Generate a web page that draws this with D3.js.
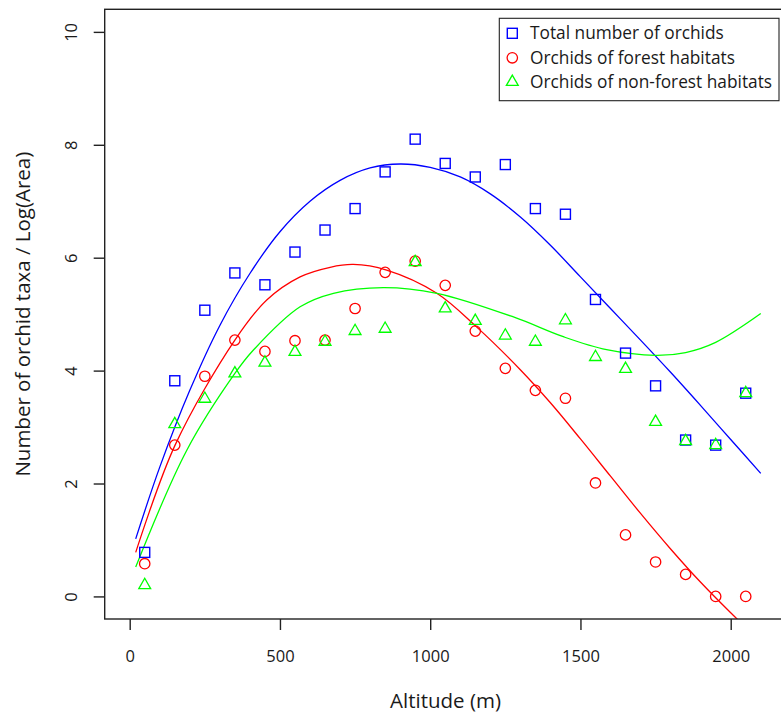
<!DOCTYPE html>
<html>
<head>
<meta charset="utf-8">
<script src="https://cdn.jsdelivr.net/npm/d3@7/dist/d3.min.js"></script>
<style>
  html, body { margin: 0; padding: 0; background: #ffffff; }
  svg { display: block; }
  text { font-family: "Open Sans", "Noto Sans", sans-serif; fill: #1a1a1a; }
</style>
</head>
<body>
<div id="chart"></div>
<script>
// Altitude bands (m), band midpoints
const altitudes = [50, 150, 250, 350, 450, 550, 650, 750, 850, 950, 1050,
                   1150, 1250, 1350, 1450, 1550, 1650, 1750, 1850, 1950, 2050];

// Number of orchid taxa / Log(Area) per altitude band
const totalOrchids = [0.78, 3.82, 5.07, 5.73, 5.52, 6.10, 6.49, 6.87, 7.52, 8.10, 7.67,
                      7.43, 7.65, 6.87, 6.77, 5.26, 4.31, 3.73, 2.77, 2.68, 3.60];
const forestOrchids = [0.58, 2.68, 3.90, 4.54, 4.34, 4.53, 4.54, 5.10, 5.74, 5.94, 5.51,
                       4.70, 4.04, 3.65, 3.51, 2.01, 1.09, 0.61, 0.39, 0.00, 0.00];
const nonForestOrchids = [0.20, 3.05, 3.50, 3.95, 4.14, 4.33, 4.51, 4.70, 4.74, 5.92, 5.10,
                          4.88, 4.62, 4.51, 4.89, 4.24, 4.03, 3.09, 2.75, 2.68, 3.60];

// Fitted trend curves (altitude, value)
const totalFitAlt = [20, 100, 200, 300, 400, 500, 600, 700, 800, 900, 1000,
                     1100, 1200, 1300, 1400, 1500, 1600, 1700, 1800, 1900, 2000, 2100];
const totalFit    = [1.02, 2.29, 3.65, 4.80, 5.72, 6.46, 7.00, 7.37, 7.59, 7.66, 7.60,
                     7.43, 7.13, 6.72, 6.22, 5.66, 5.10, 4.54, 3.97, 3.38, 2.78, 2.18];
const forestFitAlt = [20, 151, 350, 456, 567, 667, 744, 855, 1022, 1155, 1299, 1400, 1500, 1600, 1700, 1800, 1900, 2000, 2100];
const forestFit    = [0.78, 2.68, 4.54, 5.25, 5.66, 5.83, 5.88, 5.78, 5.37, 4.77, 4.02, 3.43, 2.79, 2.13, 1.47, 0.84, 0.25, -0.29, -0.80];
const nonForestFitAlt = [20, 190, 350, 411, 567, 678, 844, 1022, 1277, 1443, 1587, 1750, 1850, 1950, 2100];
const nonForestFit    = [0.52, 2.59, 3.95, 4.36, 5.13, 5.37, 5.47, 5.37, 4.95, 4.60, 4.37, 4.27, 4.32, 4.50, 5.01];

const xTicks = [0, 500, 1000, 1500, 2000];
const yTicks = [0, 2, 4, 6, 8, 10];

const seriesNames = ["Total number of orchids", "Orchids of forest habitats", "Orchids of non-forest habitats"];
const seriesColors = ["#0000ff", "#ff0000", "#00ff00"];
const seriesShapes = ["square", "circle", "triangle"];

const W = 781, H = 713;
const box = { left: 104.7, right: 786.3, top: 9.3, bottom: 619 };

const svg = d3.select("#chart").append("svg")
  .attr("width", W).attr("height", H)
  .attr("viewBox", `0 0 ${W} ${H}`);

svg.append("rect").attr("width", W).attr("height", H).attr("fill", "#ffffff");

const x = d3.scaleLinear().domain([-83.2, 2185]).range([box.left, box.right]);
const y = d3.scaleLinear().domain([-0.4, 10.4]).range([box.bottom, box.top]);

svg.append("defs").append("clipPath").attr("id", "plotClip")
  .append("rect")
  .attr("x", box.left).attr("y", box.top)
  .attr("width", box.right - box.left).attr("height", box.bottom - box.top);

// Marker drawing
function drawMarker(g, shape, cx, cy, color) {
  if (shape === "square") {
    const s = 10;
    g.append("rect").attr("x", cx - s / 2).attr("y", cy - s / 2)
      .attr("width", s).attr("height", s)
      .attr("fill", "none").attr("stroke", color).attr("stroke-width", 1.4);
  } else if (shape === "circle") {
    g.append("circle").attr("cx", cx).attr("cy", cy).attr("r", 5.2)
      .attr("fill", "none").attr("stroke", color).attr("stroke-width", 1.3);
  } else {
    const xc = 4.4;
    const r = 1.555 * xc, hx = 1.347 * xc, yc = 0.778 * xc;
    const pts = [[cx, cy - r], [cx + hx, cy + yc], [cx - hx, cy + yc]];
    g.append("polygon").attr("points", pts.map(p => p.join(",")).join(" "))
      .attr("fill", "none").attr("stroke", color).attr("stroke-width", 1.3)
      .attr("stroke-linejoin", "miter");
  }
}

// Trend curves
const line = d3.line()
  .x(d => x(d[0])).y(d => y(d[1]))
  .curve(d3.curveCatmullRom.alpha(0.5));

const curveData = [
  d3.zip(totalFitAlt, totalFit),
  d3.zip(forestFitAlt, forestFit),
  d3.zip(nonForestFitAlt, nonForestFit)
];

const curves = svg.append("g").attr("clip-path", "url(#plotClip)");
curveData.forEach((pts, i) => {
  curves.append("path").attr("d", line(pts))
    .attr("fill", "none").attr("stroke", seriesColors[i]).attr("stroke-width", 1.3);
});

// Observed points
const seriesValues = [totalOrchids, forestOrchids, nonForestOrchids];
const pointsG = svg.append("g").attr("clip-path", "url(#plotClip)");
seriesValues.forEach((vals, i) => {
  vals.forEach((v, j) => drawMarker(pointsG, seriesShapes[i], x(altitudes[j]), y(v), seriesColors[i]));
});

// Plot frame
svg.append("rect")
  .attr("x", box.left).attr("y", box.top)
  .attr("width", box.right - box.left).attr("height", box.bottom - box.top)
  .attr("fill", "none").attr("stroke", "#222222").attr("stroke-width", 1.4);

// Axes
const tickFont = 16.5;
const xAxis = svg.append("g").attr("transform", `translate(0,${box.bottom})`)
  .call(d3.axisBottom(x).tickValues(xTicks).tickSize(11).tickFormat(d3.format("d")));
xAxis.select(".domain").remove();
xAxis.selectAll(".tick line").attr("stroke", "#222222").attr("stroke-width", 1.4);
xAxis.selectAll(".tick text")
  .attr("y", 42.7).attr("dy", 0)
  .attr("font-size", tickFont).attr("fill", "#1a1a1a")
  .style("font-family", '"Open Sans", sans-serif');

const yAxis = svg.append("g").attr("transform", `translate(${box.left},0)`)
  .call(d3.axisLeft(y).tickValues(yTicks).tickSize(11).tickFormat(d3.format("d")));
yAxis.select(".domain").remove();
yAxis.selectAll(".tick line").attr("stroke", "#222222").attr("stroke-width", 1.4);
yAxis.selectAll(".tick text")
  .attr("transform", "rotate(-90)")
  .attr("x", 0).attr("y", -(box.left - 77)).attr("dy", 0)
  .attr("text-anchor", "middle")
  .attr("font-size", tickFont).attr("fill", "#1a1a1a")
  .style("font-family", '"Open Sans", sans-serif');

// Axis titles
svg.append("text")
  .attr("x", (box.left + box.right) / 2).attr("y", 707.5)
  .attr("text-anchor", "middle").attr("font-size", 20.5)
  .text("Altitude (m)");

svg.append("text")
  .attr("transform", `translate(30,${(box.top + box.bottom) / 2}) rotate(-90)`)
  .attr("text-anchor", "middle").attr("font-size", 20.5)
  .text("Number of orchid taxa / Log(Area)");

// Legend
const legend = svg.append("g");
legend.append("rect")
  .attr("x", 499.3).attr("y", 18.3).attr("width", 279.7).attr("height", 82.4)
  .attr("fill", "#ffffff").attr("stroke", "#222222").attr("stroke-width", 1.1);
const rowY = [33.3, 57.8, 82.0];
seriesNames.forEach((name, i) => {
  drawMarker(legend, seriesShapes[i], 512.3, rowY[i], seriesColors[i]);
  legend.append("text")
    .attr("x", 530).attr("y", rowY[i] + 6.0)
    .attr("font-size", 17.3)
    .text(name);
});
</script>
</body>
</html>
